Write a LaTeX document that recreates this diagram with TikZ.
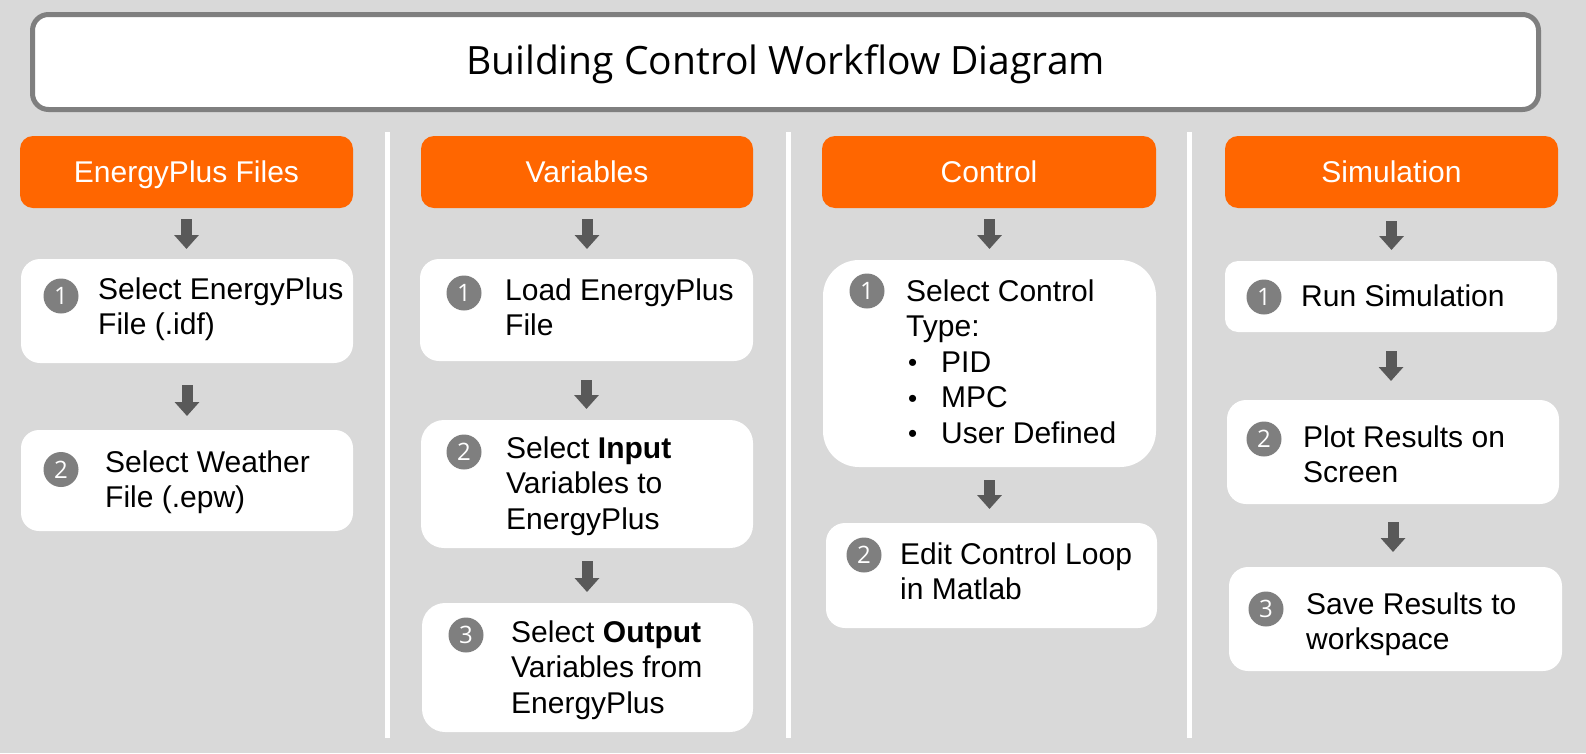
\documentclass[tikz,border=0pt]{standalone}
\usepackage{fontspec}
\setmainfont{Liberation Sans}
\newfontfamily\titlefont{Open Sans}
\usetikzlibrary{arrows.meta}
\definecolor{bg}{HTML}{D9D9D9}
\definecolor{hdr}{HTML}{FF6600}
\definecolor{arr}{HTML}{595959}
\definecolor{numc}{HTML}{7F7F7F}
\definecolor{framec}{HTML}{7F7F7F}
\newcommand{\bul}{\makebox[35pt][l]{\hspace{2pt}\raisebox{0.5pt}{\fontsize{26}{26}\selectfont•}}}
\begin{document}
\begin{tikzpicture}[x=1pt,y=-1pt,
  box/.style={fill=white, inner sep=0pt, outer sep=0pt},
  hdrbox/.style={fill=hdr, rounded corners=13pt, inner sep=0pt, outer sep=0pt, minimum height=72pt},
  num/.style={circle, fill=numc, minimum size=35pt, inner sep=0pt, text=white, font=\titlefont\fontsize{24}{24}\selectfont},
  txt/.style={anchor=base west, inner sep=0pt, font=\fontsize{30}{35.5}\selectfont},
  hdrtxt/.style={anchor=base, inner sep=0pt, text=white, font=\fontsize{30}{36}\selectfont},
  flow/.style={draw=arr, line width=11pt, -{Triangle[width=24pt,length=14pt]}},
  divider/.style={draw=white, line width=5pt}
]
\fill[bg] (0,0) rectangle (1586,753);
\useasboundingbox (0,0) rectangle (1586,753);

% title
\node[draw=framec, line width=5pt, fill=white, rounded corners=16pt, minimum width=1506pt, minimum height=95pt, inner sep=0pt] (title) at (785.5,62) {};
\node[anchor=base, inner sep=0pt, font=\titlefont\fontsize{39}{39}\selectfont] (titletext) at (785.5,74) {Building Control Workflow Diagram};

% dividers
\draw[divider] (387.5,132) -- (387.5,738);
\draw[divider] (788.5,132) -- (788.5,738);
\draw[divider] (1189.5,132) -- (1189.5,738);

% headers
\node[hdrbox, minimum width=333pt] (H1) at (186.5,172) {};
\node[hdrbox, minimum width=332pt] (H2) at (587,172) {};
\node[hdrbox, minimum width=334pt] (H3) at (989,172) {};
\node[hdrbox, minimum width=333pt] (H4) at (1391.5,172) {};
\node[hdrtxt] (H1t) at (186.5,182) {EnergyPlus Files};
\node[hdrtxt] (H2t) at (587,182) {Variables};
\node[hdrtxt] (H3t) at (989,182) {Control};
\node[hdrtxt] (H4t) at (1391.5,182) {Simulation};

% boxes
\node[box, rounded corners=19pt, minimum width=332pt, minimum height=104pt] (A1) at (187,311) {};
\node[box, rounded corners=18pt, minimum width=332pt, minimum height=101pt] (A2) at (187,480.5) {};
\node[box, rounded corners=19pt, minimum width=333pt, minimum height=102pt] (B1) at (586.5,310) {};
\node[box, rounded corners=23pt, minimum width=332pt, minimum height=128pt] (B2) at (587,484) {};
\node[box, rounded corners=23pt, minimum width=331pt, minimum height=129pt] (B3) at (587.5,667.5) {};
\node[box, rounded corners=36pt, minimum width=333pt, minimum height=207pt] (C1) at (989.5,363.5) {};
\node[box, rounded corners=19pt, minimum width=331pt, minimum height=105pt] (C2) at (991.5,575.5) {};
\node[box, rounded corners=13pt, minimum width=332pt, minimum height=71pt] (D1) at (1391,296.5) {};
\node[box, rounded corners=19pt, minimum width=332pt, minimum height=104pt] (D2) at (1393,452) {};
\node[box, rounded corners=19pt, minimum width=333pt, minimum height=104pt] (D3) at (1395.5,619) {};

% number circles
\node[num] (A1n) at (61,296) {1};
\node[num] (A2n) at (61,469.5) {2};
\node[num] (B1n) at (464,293) {1};
\node[num] (B2n) at (464,452) {2};
\node[num] (B3n) at (466,635) {3};
\node[num] (C1n) at (867,291) {1};
\node[num] (C2n) at (864,555) {2};
\node[num] (D1n) at (1264,297) {1};
\node[num] (D2n) at (1264,439) {2};
\node[num] (D3n) at (1266,609) {3};

% texts
\node[txt] (A1t) at (98,299) {\begin{tabular}[t]{@{}l@{}}Select EnergyPlus\\File (.idf)\end{tabular}};
\node[txt] (A2t) at (105,472) {\begin{tabular}[t]{@{}l@{}}Select Weather\\File (.epw)\end{tabular}};
\node[txt] (B1t) at (505,300) {\begin{tabular}[t]{@{}l@{}}Load EnergyPlus\\File\end{tabular}};
\node[txt] (B2t) at (506,458) {\begin{tabular}[t]{@{}l@{}}Select \textbf{Input}\\Variables to\\EnergyPlus\end{tabular}};
\node[txt] (B3t) at (511,642) {\begin{tabular}[t]{@{}l@{}}Select \textbf{Output}\\Variables from\\EnergyPlus\end{tabular}};
\node[txt] (C1t) at (906,301) {\begin{tabular}[t]{@{}l@{}}Select Control\\Type:\\\bul PID\\\bul MPC\\\bul User Defined\end{tabular}};
\node[txt] (C2t) at (900,564) {\begin{tabular}[t]{@{}l@{}}Edit Control Loop\\in Matlab\end{tabular}};
\node[txt] (D1t) at (1301,306) {\begin{tabular}[t]{@{}l@{}}Run Simulation\end{tabular}};
\node[txt] (D2t) at (1303,447) {\begin{tabular}[t]{@{}l@{}}Plot Results on\\Screen\end{tabular}};
\node[txt] (D3t) at (1306,614) {\begin{tabular}[t]{@{}l@{}}Save Results to\\workspace\end{tabular}};

% flow arrows
\draw[flow, shorten <=11pt, shorten >=10pt] (H1.south) -- (H1.south |- A1.north);
\draw[flow, shorten <=22pt, shorten >=14pt] (A1.south) -- (A1.south |- A2.north);
\draw[flow, shorten <=11pt, shorten >=10pt] (H2.south) -- (H2.south |- B1.north);
\draw[flow, shorten <=19pt, shorten >=11pt] (B1.south) -- (B1.south |- B2.north);
\draw[flow, shorten <=13pt, shorten >=11pt] (B2.south) -- (B2.south |- B3.north);
\draw[flow, shorten <=11pt, shorten >=11pt] (C1.north |- H3.south) -- (C1.north);
\draw[flow, shorten <=13pt, shorten >=14pt] (C1.south) -- (C1.south |- C2.north);
\draw[flow, shorten <=13pt, shorten >=11pt] (H4.south) -- (H4.south |- D1.north);
\draw[flow, shorten <=19pt, shorten >=19pt] (D1.south) -- (D1.south |- D2.north);
\draw[flow, shorten <=18pt, shorten >=15pt] (D2.south) -- (D2.south |- D3.north);
\end{tikzpicture}
\end{document}
